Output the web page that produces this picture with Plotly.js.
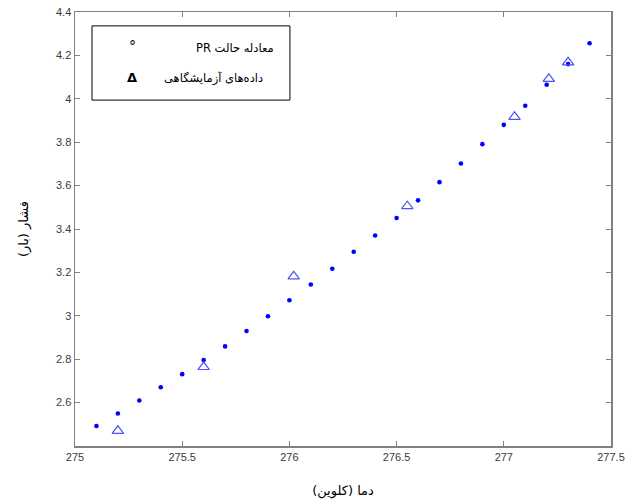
<!DOCTYPE html>
<html>
<head>
<meta charset="utf-8">
<script src="https://cdn.plot.ly/plotly-3.0.1.min.js"></script>
<style>html,body{margin:0;padding:0;background:#fff;}#chart{width:634px;height:504px;}</style>
</head>
<body>
<div id="chart"></div>
<script>
// PR equation of state (model)
const prTemp = [275.1, 275.2, 275.3, 275.4, 275.5, 275.6, 275.7, 275.8, 275.9, 276.0, 276.1, 276.2, 276.3, 276.4, 276.5, 276.6, 276.7, 276.8, 276.9, 277.0, 277.1, 277.2, 277.3, 277.4];
const prPressure = [2.492, 2.550, 2.610, 2.671, 2.731, 2.796, 2.859, 2.930, 2.998, 3.072, 3.144, 3.217, 3.295, 3.370, 3.451, 3.532, 3.616, 3.702, 3.791, 3.880, 3.968, 4.065, 4.160, 4.256];
// Experimental data
const expTemp = [275.2, 275.6, 276.02, 276.55, 277.05, 277.21, 277.3];
const expPressure = [2.470, 2.764, 3.182, 3.505, 3.917, 4.092, 4.168];

const xTicks = [275, 275.5, 276, 276.5, 277, 277.5];
const xTickText = ['275', '275.5', '276', '276.5', '277', '277.5'];
const yTicks = [2.6, 2.8, 3, 3.2, 3.4, 3.6, 3.8, 4, 4.2, 4.4];
const yTickText = ['2.6', '2.8', '3', '3.2', '3.4', '3.6', '3.8', '4', '4.2', '4.4'];

const legendLabels = ['معادله حالت PR', 'داده‌های آزمایشگاهی'];
const legendSymbols = ['°', 'Δ'];
const xTitle = 'دما (کلوین)';
const yTitle = 'فشار (بار)';

const RLE = '\u202B', PDF = '\u202C';

const traces = [
  {x: prTemp, y: prPressure, type: 'scatter', mode: 'markers', showlegend: false,
   marker: {symbol: 'circle', size: 4.6, color: '#0000ff'}},
  {x: expTemp, y: expPressure, type: 'scatter', mode: 'markers', showlegend: false,
   marker: {symbol: 'triangle-up-open', size: 10, color: '#5050ff', line: {width: 1.2, color: '#5050ff'}}}
];

const axisCommon = {
  showgrid: false, zeroline: false, showline: true, mirror: 'ticks',
  linecolor: '#808080', linewidth: 1.5,
  ticks: 'inside', ticklen: 5, tickwidth: 1, tickcolor: '#808080',
  tickfont: {family: 'Liberation Sans, Arial, sans-serif', size: 11, color: '#3a3a3a'}
};

const layout = {
  width: 634, height: 504,
  margin: {l: 75, r: 23, t: 12, b: 58},
  paper_bgcolor: '#ffffff', plot_bgcolor: '#ffffff',
  showlegend: false,
  xaxis: Object.assign({}, axisCommon, {
    range: [275, 277.5], tickmode: 'array', tickvals: xTicks, ticktext: xTickText,
    title: {text: xTitle, standoff: 24, font: {family: 'DejaVu Sans, sans-serif', size: 13, color: '#000'}}
  }),
  yaxis: Object.assign({}, axisCommon, {
    range: [2.4, 4.4], tickmode: 'array', tickvals: yTicks, ticktext: yTickText,
    title: {text: yTitle, standoff: 24, font: {family: 'DejaVu Sans, sans-serif', size: 13, color: '#000'}}
  }),
  shapes: [
    {type: 'rect', xref: 'paper', yref: 'paper', x0: 0.0317, x1: 0.401, y0: 0.797, y1: 0.968,
     line: {color: '#000', width: 1}, fillcolor: '#ffffff', layer: 'above'}
  ],
  annotations: [
    {xref: 'paper', yref: 'paper', x: 0.2985, y: 0.917, xanchor: 'center', yanchor: 'middle', showarrow: false,
     text: RLE + legendLabels[0] + PDF, font: {family: 'DejaVu Sans, sans-serif', size: 11.5, color: '#000'}},
    {xref: 'paper', yref: 'paper', x: 0.258, y: 0.847, xanchor: 'center', yanchor: 'middle', showarrow: false,
     text: RLE + legendLabels[1] + PDF, font: {family: 'DejaVu Sans, sans-serif', size: 11.5, color: '#000'}},
    {xref: 'paper', yref: 'paper', x: 0.108, y: 0.922, xanchor: 'center', yanchor: 'middle', showarrow: false,
     text: legendSymbols[0], font: {family: 'DejaVu Sans, sans-serif', size: 14, color: '#000'}},
    {xref: 'paper', yref: 'paper', x: 0.106, y: 0.849, xanchor: 'center', yanchor: 'middle', showarrow: false,
     text: '<b>' + legendSymbols[1] + '</b>', font: {family: 'DejaVu Sans, sans-serif', size: 13, color: '#000'}}
  ]
};

Plotly.newPlot('chart', traces, layout, {displayModeBar: false, staticPlot: true});
</script>
</body>
</html>
